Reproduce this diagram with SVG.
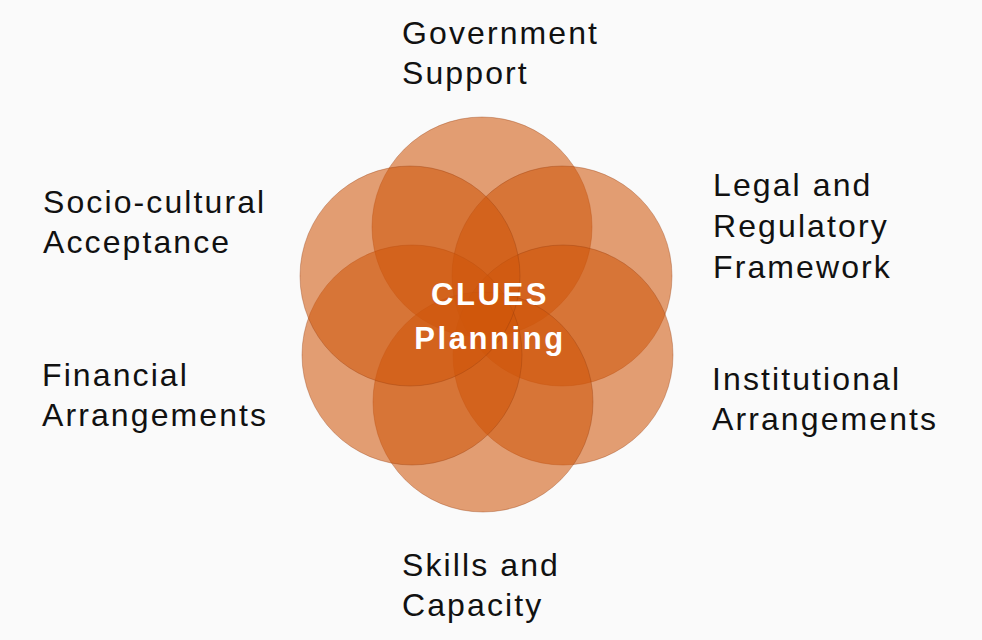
<svg xmlns="http://www.w3.org/2000/svg" width="982" height="640" viewBox="0 0 982 640">
  <style>
    .petal { fill: rgb(208,86,10); fill-opacity: 0.57; stroke: rgb(150,60,15); stroke-opacity: 0.35; stroke-width: 1; }
    .label { font-family: "Liberation Sans", Arial, sans-serif; font-size: 32px; fill: #111; letter-spacing: 2.1px; }
    .core { font-family: "Liberation Sans", Arial, sans-serif; font-size: 31px; font-weight: bold; fill: #fff; letter-spacing: 2.6px; text-anchor: middle; }
  </style>
  <rect width="982" height="640" fill="#fafafa"/>
  <g id="flower">
    <g id="circle-top"><circle class="petal" cx="482" cy="227" r="110"/></g>
    <g id="circle-upper-right"><circle class="petal" cx="562" cy="276" r="110"/></g>
    <g id="circle-lower-right"><circle class="petal" cx="563" cy="355" r="110"/></g>
    <g id="circle-bottom"><circle class="petal" cx="483" cy="402" r="110"/></g>
    <g id="circle-lower-left"><circle class="petal" cx="412" cy="355" r="110"/></g>
    <g id="circle-upper-left"><circle class="petal" cx="410" cy="276" r="110"/></g>
  </g>
  <g id="center-label">
    <text class="core" x="490" y="305">CLUES</text>
    <text class="core" x="490" y="349">Planning</text>
  </g>
  <g id="label-government">
    <text class="label" x="402" y="44">Government</text>
    <text class="label" x="402" y="84">Support</text>
  </g>
  <g id="label-socio">
    <text class="label" x="43" y="213">Socio-cultural</text>
    <text class="label" x="43" y="253">Acceptance</text>
  </g>
  <g id="label-legal">
    <text class="label" x="713" y="196">Legal and</text>
    <text class="label" x="713" y="237">Regulatory</text>
    <text class="label" x="713" y="278">Framework</text>
  </g>
  <g id="label-financial">
    <text class="label" x="42" y="386">Financial</text>
    <text class="label" x="42" y="426">Arrangements</text>
  </g>
  <g id="label-institutional">
    <text class="label" x="712" y="390">Institutional</text>
    <text class="label" x="712" y="430">Arrangements</text>
  </g>
  <g id="label-skills">
    <text class="label" x="402" y="576">Skills and</text>
    <text class="label" x="402" y="616">Capacity</text>
  </g>
</svg>
